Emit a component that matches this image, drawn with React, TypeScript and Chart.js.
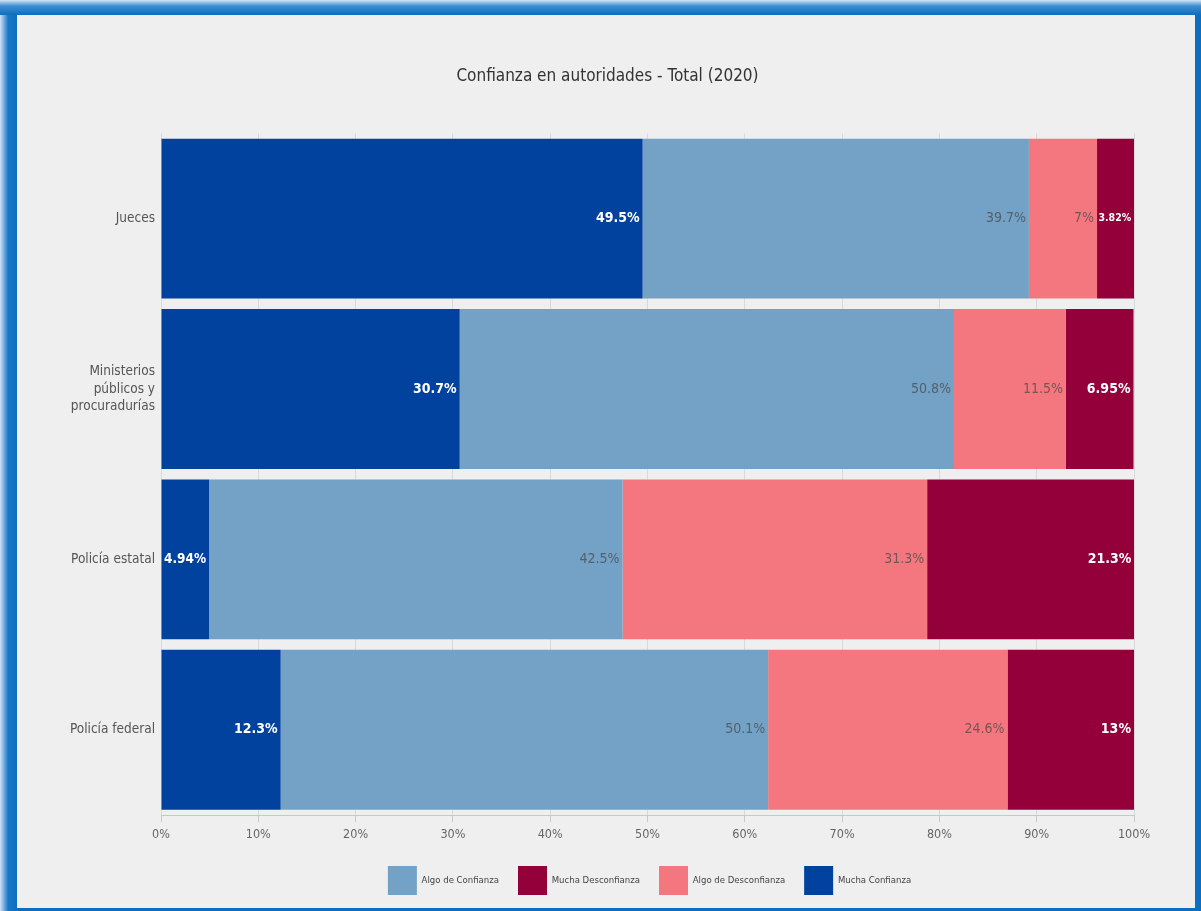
import React, { useEffect, useRef } from "react";
import { Chart, registerables } from "chart.js";

Chart.register(...registerables);

const chartTitle = "Confianza en autoridades - Total (2020)";
const categories: (string | string[])[] = [
  "Jueces",
  ["Ministerios", "públicos y", "procuradurías"],
  "Policía estatal",
  "Policía federal",
];
const muchaConfianza = [49.5, 30.7, 4.94, 12.3];
const algoConfianza = [39.7, 50.8, 42.5, 50.1];
const algoDesconfianza = [7, 11.5, 31.3, 24.6];
const muchaDesconfianza = [3.82, 6.95, 21.3, 13];
const seriesNames = ["Mucha Confianza", "Algo de Confianza", "Algo de Desconfianza", "Mucha Desconfianza"];
const legendOrder = ["Algo de Confianza", "Mucha Desconfianza", "Algo de Desconfianza", "Mucha Confianza"];

const seriesColors = ["#00429d", "#73a2c6", "#f4777f", "#93003a"];
const labelColors = ["#ffffff", "rgba(70,70,70,0.72)", "rgba(70,70,70,0.72)", "#ffffff"];
const labelBold = [true, false, false, true];

const FONT = "'Liberation Sans Narrow', 'DejaVu Sans Condensed', 'Roboto', sans-serif";

const barLabels = {
  id: "barLabels",
  afterDatasetsDraw(chart: any) {
    const ctx = chart.ctx;
    ctx.save();
    chart.data.datasets.forEach((ds: any, di: number) => {
      const meta = chart.getDatasetMeta(di);
      if (meta.hidden) return;
      meta.data.forEach((bar: any, i: number) => {
        const v = ds.data[i];
        const text = `${v}%`;
        const { x, y, base } = bar.getProps(["x", "y", "base"], true);
        const left = Math.min(x, base);
        const right = Math.max(x, base);
        const weight = labelBold[di] ? "bold" : "normal";
        let size = 14;
        ctx.font = `${weight} ${size}px ${FONT}`;
        while (ctx.measureText(text).width > right - left - 4 && size > 8) {
          size -= 0.5;
          ctx.font = `${weight} ${size}px ${FONT}`;
        }
        ctx.fillStyle = labelColors[di];
        ctx.textAlign = "right";
        ctx.textBaseline = "middle";
        ctx.fillText(text, right - 3, y);
      });
    });
    ctx.restore();
  },
};

// shift title and legend horizontally to match the original centring
const boxShift = {
  id: "boxShift",
  afterLayout(chart: any) {
    const t = chart.titleBlock;
    if (t) {
      t.left += 32;
      t.right += 32;
    }
    const l = chart.legend;
    if (l) {
      l.left += 74;
      l.right += 74;
    }
  },
};

export default function App() {
  const canvasRef = useRef<HTMLCanvasElement | null>(null);

  useEffect(() => {
    if (!canvasRef.current) return;
    const seriesData = [muchaConfianza, algoConfianza, algoDesconfianza, muchaDesconfianza];
    const chart = new Chart(canvasRef.current, {
      type: "bar",
      data: {
        labels: categories as any,
        datasets: seriesNames.map((name, i) => ({
          label: name,
          data: seriesData[i],
          backgroundColor: seriesColors[i],
          borderColor: seriesColors[i],
          borderWidth: 0,
          barPercentage: 1,
          categoryPercentage: 0.9386,
        })),
      },
      options: {
        indexAxis: "y",
        animation: false,
        responsive: false,
        maintainAspectRatio: false,
        layout: { padding: { left: 0, right: 61, top: 0, bottom: 3 } },
        scales: {
          x: {
            stacked: true,
            min: 0,
            max: 100,
            ticks: {
              stepSize: 10,
              callback: (v: any) => `${v}%`,
              color: "#666",
              font: { family: FONT, size: 12.5 },
              padding: 5,
            },
            grid: { color: "#d9d9d9", tickLength: 7, tickColor: "#c8c8c8" },
            border: { color: "#c8c8c8" },
          },
          y: {
            stacked: true,
            ticks: {
              color: "#555",
              font: { family: FONT, size: 13.5, lineHeight: 1.3 },
              padding: -2,
            },
            grid: { display: false },
            border: { display: false },
            afterFit: (scale: any) => {
              scale.width = 144;
            },
          },
        },
        plugins: {
          title: {
            display: true,
            text: chartTitle,
            color: "#333",
            font: { family: FONT, size: 17, weight: "normal" },
            padding: { top: 51, bottom: 47 },
          },
          legend: {
            position: "bottom",
            labels: {
              boxWidth: 29,
              boxHeight: 29,
              padding: 19,
              color: "#444",
              font: { family: FONT, size: 9.5 },
              sort: (a: any, b: any) => legendOrder.indexOf(a.text) - legendOrder.indexOf(b.text),
            },
          },
          tooltip: { enabled: false },
        },
      },
      plugins: [barLabels, boxShift],
    });
    return () => chart.destroy();
  }, []);

  return (
    <div
      style={{
        position: "absolute",
        left: 0,
        top: 0,
        width: 1201,
        height: 911,
        background: "linear-gradient(to right, #cfe3f5 0px, #1a78c6 8px, #0d6dbf 17px, #0d6dbf 100%)",
        overflow: "hidden",
      }}
    >
      <div
        style={{
          position: "absolute",
          left: 0,
          top: 0,
          width: 1201,
          height: 15,
          background: "linear-gradient(to bottom, #d5e6f5 0px, #3d8fd2 6px, #0d6dbf 15px)",
        }}
      />
      <div
        style={{
          position: "absolute",
          left: 17,
          top: 15,
          width: 1178,
          height: 893,
          background: "#efefef",
        }}
      >
        <canvas ref={canvasRef} width={1178} height={893} style={{ display: "block" }} />
      </div>
    </div>
  );
}
